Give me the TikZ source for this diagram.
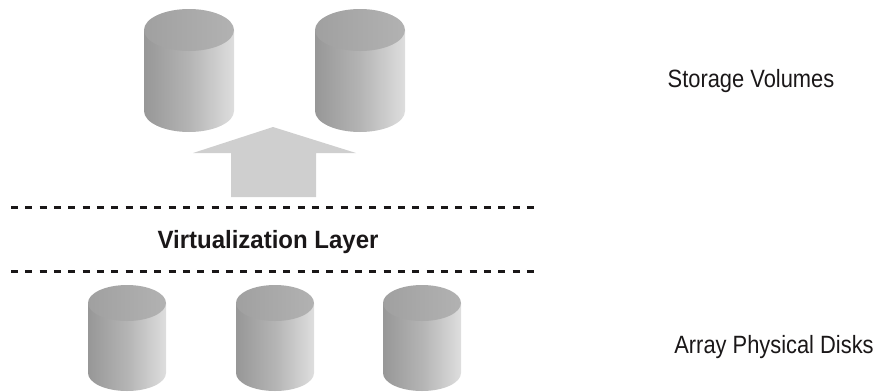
\documentclass[tikz,border=0pt]{standalone}
\usepackage{fontspec}
\setmainfont{Liberation Sans}
\newfontfamily\condreg[FakeStretch=0.875]{Liberation Sans}
\newfontfamily\condbold[FakeStretch=0.96]{Liberation Sans Bold}
\definecolor{arrowgray}{HTML}{CFCFCF}
\definecolor{bodyl}{HTML}{979797}
\definecolor{bodym}{HTML}{B4B4B4}
\definecolor{bodyr}{HTML}{DEDEDE}
\definecolor{topl}{HTML}{A0A0A0}
\definecolor{topr}{HTML}{B2B2B2}
\definecolor{ink}{HTML}{1A1718}
\pgfdeclarehorizontalshading{cylbody}{100bp}{color(0bp)=(bodyl);color(25bp)=(bodyl);color(50bp)=(bodym);color(75bp)=(bodyr);color(100bp)=(bodyr)}
\pgfdeclarehorizontalshading{cyltop}{100bp}{color(0bp)=(topl);color(25bp)=(topl);color(75bp)=(topr);color(100bp)=(topr)}
\newcommand{\cyl}[5]{% x-left, width, top centre y, ry, bottom centre y
  \path[shade,shading=cylbody] (#1,#3) -- (#1,#5) arc[start angle=180,end angle=0,x radius=#2/2,y radius=#4] -- (#1+#2,#3) -- cycle;
  \path[shade,shading=cyltop] (#1+#2/2,#3) ellipse[x radius=#2/2,y radius=#4];
}
\tikzset{
  dashline/.style={ink,line width=3pt,dash pattern=on 7pt off 7.33pt},
  lbl/.style={inner sep=0pt,anchor=base,text=ink,font=\fontsize{25}{28}\condreg},
  blbl/.style={inner sep=0pt,anchor=base,text=ink,font=\fontsize{25}{28}\condbold},
  uparrow/.style={fill=arrowgray,draw=none}
}
\begin{document}
\begin{tikzpicture}[x=1pt,y=-1pt]
\useasboundingbox (0,0) rectangle (882,391);
\cyl{144}{90}{30}{21}{111}
\cyl{315}{90}{30}{21}{111}
\cyl{88}{78}{303}{18}{373}
\cyl{236}{78}{303}{18}{373}
\cyl{383}{78}{303}{18}{373}
\path[uparrow] (273,127) -- (356,153) -- (316,153) -- (316,197) -- (231,197) -- (231,153) -- (193,153) -- cycle;
\coordinate (d1a) at (11,207.5); \coordinate (d1b) at (536,207.5);
\coordinate (d2a) at (11,271.5); \coordinate (d2b) at (536,271.5);
\draw[dashline] (d1a) -- (d1b);
\draw[dashline] (d2a) -- (d2b);
\node[blbl] (virt) at (268,248) {Virtualization Layer};
\node[lbl] (sv) at (751,87) {Storage Volumes};
\node[lbl] (apd) at (774,353) {Array Physical Disks};
\end{tikzpicture}
\end{document}
